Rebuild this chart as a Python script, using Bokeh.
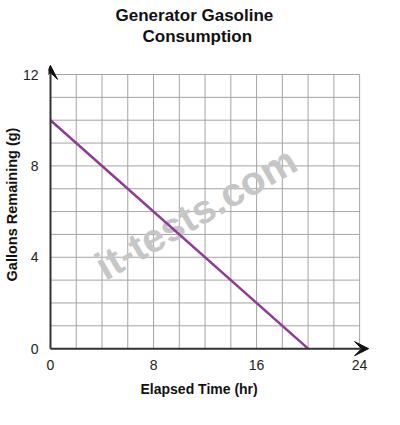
from bokeh.plotting import figure
from bokeh.models import Range1d, FixedTicker, Arrow, VeeHead, Title
from bokeh.core.properties import value
from bokeh.embed import file_html
from bokeh.resources import INLINE

# ---- data ----
title_lines = ["Generator Gasoline", "Consumption"]
x_label = "Elapsed Time (hr)"
y_label = "Gallons Remaining (g)"
x_ticks = [0, 8, 16, 24]
y_ticks = [0, 4, 8, 12]
grid_x = list(range(0, 25, 2))
grid_y = list(range(0, 13, 1))
time_hr = [0, 20]
gallons = [10, 0]
watermark = "it-tests.com"

FONT = "Liberation Sans"

x_max = x_ticks[-1]
y_max = y_ticks[-1]

p = figure(
    frame_width=324, frame_height=318,
    min_border_left=42, min_border_right=18,
    min_border_top=45, min_border_bottom=46,
    x_range=Range1d(-0.155, x_max + 1.0),
    y_range=Range1d(-0.65, y_max + 1.27),
    output_backend="svg", toolbar_location=None,
)
p.outline_line_color = None
p.xgrid.visible = False
p.ygrid.visible = False
p.background_fill_color = "white"

# grid
p.segment(x0=grid_x, y0=[0] * len(grid_x), x1=grid_x, y1=[y_max] * len(grid_x),
          line_color="#a4a4a4", line_width=1)
p.segment(x0=[0] * len(grid_y), y0=grid_y, x1=[x_max] * len(grid_y), y1=grid_y,
          line_color="#a4a4a4", line_width=1)

# watermark
p.text(x=[x_max * 0.47], y=[y_max * 0.495], text=[watermark], angle=30, angle_units="deg",
       text_font=value(FONT), text_font_style="bold", text_font_size="40px",
       text_color="#c6c6c6", text_alpha=1.0, text_align="center", text_baseline="middle")

# axes arrows
p.add_layout(Arrow(x_start=0, y_start=0, x_end=x_max + 0.7, y_end=0,
                   line_color="#333333", line_width=2,
                   end=VeeHead(size=14, fill_color="#111111", line_color="#111111")))
p.add_layout(Arrow(x_start=0, y_start=0, x_end=0, y_end=y_max + 0.4,
                   line_color="#333333", line_width=2,
                   end=VeeHead(size=14, fill_color="#111111", line_color="#111111")))

# data line
p.line(time_hr, gallons, line_color="#8e3b93", line_width=2.5)

# axes
for ax in (p.xaxis[0], p.yaxis[0]):
    ax.axis_line_color = None
    ax.major_tick_line_color = None
    ax.minor_tick_line_color = None
    ax.major_label_text_font = FONT
    ax.major_label_text_font_size = "14px"
    ax.major_label_text_color = "#222222"
p.xaxis[0].ticker = FixedTicker(ticks=x_ticks)
p.yaxis[0].ticker = FixedTicker(ticks=y_ticks)
p.xaxis[0].major_label_standoff = -10
p.yaxis[0].major_label_standoff = 4
p.yaxis[0].axis_label = y_label
p.yaxis[0].axis_label_text_font = FONT
p.yaxis[0].axis_label_text_font_style = "bold"
p.yaxis[0].axis_label_text_font_size = "14.5px"
p.yaxis[0].axis_label_text_color = "#111111"
p.yaxis[0].axis_label_standoff = 0

# title: nearest line first
p.add_layout(Title(text=title_lines[1], align="left", offset=94, standoff=0,
                   text_font=FONT, text_font_style="bold", text_font_size="17px",
                   text_color="#111111"), "above")
p.add_layout(Title(text=title_lines[0], align="left", offset=67, standoff=0,
                   text_font=FONT, text_font_style="bold", text_font_size="17px",
                   text_color="#111111"), "above")

# x-axis label as a title below the axis
p.add_layout(Title(text=x_label, align="left", offset=92, standoff=12,
                   text_font=FONT, text_font_style="bold", text_font_size="14px",
                   text_color="#111111"), "below")

open("out.html", "w").write(file_html(p, INLINE))
